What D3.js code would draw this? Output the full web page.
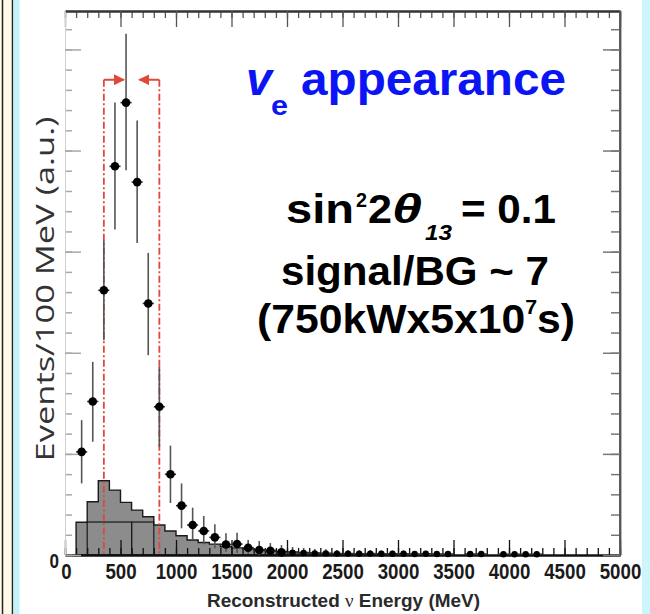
<!DOCTYPE html>
<html>
<head>
<meta charset="utf-8">
<script src="https://cdn.jsdelivr.net/npm/d3@7"></script>
<style>
  body { margin: 0; background: #fff; }
  svg { display: block; }
</style>
</head>
<body>
<svg id="chart"></svg>
<script>
// background histogram, 100 MeV bins (bin start in MeV, height in a.u.)
const bgBinStart = [100, 200, 300, 400, 500, 600, 700, 800, 900, 1000, 1100, 1200, 1300, 1400, 1500,
    1600, 1700, 1800, 1900, 2000, 2100, 2200, 2300, 2400, 2500, 2600, 2700, 2800, 2900];
const bgValues = [16.2, 26.3, 36.7, 32.1, 26.0, 22.2, 18.9, 14.8, 11.9, 9.5, 7.4, 6.2, 5.4, 4.1, 3.5,
    3.1, 2.5, 2.2, 1.8, 1.5, 1.2, 1.0, 0.8, 0.6, 0.5, 0.4, 0.3, 0.3, 0.2];
const bgBinWidth = 100;

// lower (intrinsic) background component
const lowBgEdges = [200, 600, 800];
const lowBgValues = [16.3, 16.3];

// signal + BG points
const sigEnergy = [150, 250, 350, 450, 550, 650, 750, 850, 950, 1050, 1150, 1250, 1350, 1450, 1550,
    1650, 1750, 1850, 1950, 2050, 2150, 2250, 2350, 2450, 2550, 2650, 2750, 2850, 2950, 3050, 3150,
    3250, 3350, 3450, 3650, 3750, 3950, 4050, 4150, 4250];
const sigValues = [51.0, 75.9, 130.9, 192.2, 223.7, 184.4, 124.4, 73.3, 39.9, 24.4, 14.8, 11.9, 8.7, 5.2, 5.4,
    3.6, 2.5, 2.1, 1.3, 1.1, 1.0, 0.8, 0.8, 0.7, 0.7, 0.6, 0.7, 0.6, 0.6, 0.6, 0.5,
    0.6, 0.5, 0.5, 0.5, 0.5, 0.4, 0.4, 0.4, 0.4];
const sigErrLow = [35.4, 56.0, 106.2, 160.9, 190.2, 154.3, 98.8, 53.5, 25.7, 13.2, 7.4, 5.3, 3.3, 1.6, 1.0,
    0.5, 0, 0, 0, 0, 0, 0, 0, 0, 0, 0, 0, 0, 0, 0, 0,
    0, 0, 0, 0, 0, 0, 0, 0, 0];
const sigErrHigh = [66.7, 95.5, 155.6, 223.7, 257.8, 214.9, 149.4, 93.1, 54.1, 35.4, 23.4, 19.3, 15.2, 10.7, 11.0,
    7.4, 6.9, 5.9, 4.9, 4.0, 3.5, 3.0, 2.8, 2.5, 2.5, 2.3, 2.4, 2.2, 2.2, 2.2, 2.0,
    2.1, 2.0, 2.0, 2.0, 2.0, 1.8, 1.8, 1.8, 1.8];

// selection window
const cutEnergies = [350, 850];
const cutLevel = 235;

const xTickLabels = [0, 500, 1000, 1500, 2000, 2500, 3000, 3500, 4000, 4500, 5000];

class EnergyPlot {
    constructor(id, width, height) {
        this.width = width;
        this.height = height;
        this.svg = d3.select(id).attr("width", width).attr("height", height);
        this.red = "#e0483a";
    }

    drawFrame() {
        // slide border bits
        this.svg.append("rect").attr("x", 0).attr("y", 0).attr("width", 13).attr("height", this.height).attr("fill", "#fffbe8");
        this.svg.append("line").attr("x1", 2.5).attr("x2", 2.5).attr("y1", 0).attr("y2", this.height).attr("stroke", "#222").attr("stroke-width", 1.5);
        this.svg.append("line").attr("x1", 12.5).attr("x2", 12.5).attr("y1", 0).attr("y2", this.height).attr("stroke", "#222").attr("stroke-width", 1.5);
        this.svg.append("rect").attr("x", 13.5).attr("y", 0).attr("width", 6).attr("height", this.height).attr("fill", "#c2f3fb");
        this.svg.append("rect").attr("x", 642).attr("y", 0).attr("width", 8).attr("height", this.height).attr("fill", "#cdf6fc");
    }

    draw() {
        this.drawFrame();
        const x = d3.scaleLinear().domain([0, 5000]).range([65, 620]);
        const y = d3.scaleLinear().domain([0, 269]).range([555, 11]);
        this.x = x;
        this.y = y;

        // background histogram
        const bins = bgBinStart.map((s, i) => ({e: s, v: bgValues[i]}));
        const last = bins[bins.length - 1];
        bins.push({e: last.e + bgBinWidth, v: last.v});
        const area = d3.area().curve(d3.curveStepAfter)
            .x(d => x(d.e)).y0(y(0)).y1(d => y(d.v));
        this.svg.append("path").datum(bins)
            .attr("d", area)
            .attr("fill", "#8c8c8c")
            .attr("stroke", "#1a1a1a")
            .attr("stroke-width", 1.4);

        // lower component outline
        this.svg.append("g").selectAll("rect")
            .data(lowBgValues).enter()
            .append("rect")
            .attr("x", (d, i) => x(lowBgEdges[i]))
            .attr("y", d => y(d))
            .attr("width", (d, i) => x(lowBgEdges[i + 1]) - x(lowBgEdges[i]))
            .attr("height", d => y(0) - y(d))
            .attr("fill", "none")
            .attr("stroke", "#1a1a1a")
            .attr("stroke-width", 1.2);

        this.drawAxes();
        this.drawCuts();
        this.drawPoints();
        this.drawTexts();
    }

    drawAxes() {
        const x = this.x, y = this.y;
        const arial = "'Liberation Sans', Arial, sans-serif";
        const minorX = d3.range(0, 5001, 100);
        const minorY = d3.range(0, 261, 10);
        const majorY = d3.range(0, 251, 50);

        // bottom
        const bMinor = this.svg.append("g").attr("transform", `translate(0,${y(0)})`)
            .call(d3.axisBottom(x).tickValues(minorX).tickSizeInner(-7).tickSizeOuter(0).tickFormat(""));
        const bMajor = this.svg.append("g").attr("transform", `translate(0,${y(0)})`)
            .call(d3.axisBottom(x).tickValues(xTickLabels).tickSizeInner(-15).tickSizeOuter(0)
                .tickFormat(d3.format("d")));
        [bMinor, bMajor].forEach(g => {
            g.select(".domain").attr("stroke", "#111").attr("stroke-width", 2);
            g.selectAll(".tick line").attr("stroke", "#111").attr("stroke-width", 1.3);
        });
        bMajor.attr("font-family", arial).attr("font-size", 22).attr("font-weight", "bold");
        bMajor.selectAll(".tick text")
            .attr("x", d => d === 0 ? 1 : 0)
            .attr("y", 24).attr("dy", null)
            .attr("fill", "#1a1a1a")
            .attr("textLength", d => String(d).length * 10.4)
            .attr("lengthAdjust", "spacingAndGlyphs");

        // top
        const tMinor = this.svg.append("g").attr("transform", `translate(0,${y.range()[1]})`)
            .call(d3.axisTop(x).tickValues(minorX).tickSizeInner(-7).tickSizeOuter(0).tickFormat(""));
        const tMajor = this.svg.append("g").attr("transform", `translate(0,${y.range()[1]})`)
            .call(d3.axisTop(x).tickValues(xTickLabels).tickSizeInner(-16).tickSizeOuter(0).tickFormat(""));
        [tMinor, tMajor].forEach(g => {
            g.select(".domain").attr("stroke", "#333").attr("stroke-width", 2);
            g.selectAll(".tick line").attr("stroke", "#555").attr("stroke-width", 1.3);
        });

        // left
        const lMinor = this.svg.append("g").attr("transform", `translate(${x(0)},0)`)
            .call(d3.axisLeft(y).tickValues(minorY).tickSizeInner(-7).tickSizeOuter(0).tickFormat(""));
        const lMajor = this.svg.append("g").attr("transform", `translate(${x(0)},0)`)
            .call(d3.axisLeft(y).tickValues(majorY).tickSizeInner(-16).tickSizeOuter(0)
                .tickFormat(d => d === 0 ? "0" : ""));
        [lMinor, lMajor].forEach(g => {
            g.select(".domain").attr("stroke", "#d0d0d0").attr("stroke-width", 1);
            g.selectAll(".tick line").attr("stroke", "#a8a8a8").attr("stroke-width", 1.5);
        });
        lMajor.attr("font-family", arial).attr("font-size", 21).attr("font-weight", "bold");
        lMajor.selectAll(".tick text")
            .attr("x", -6).attr("dy", "12")
            .attr("text-anchor", "end")
            .attr("fill", "#1a1a1a")
            .attr("textLength", 9.5)
            .attr("lengthAdjust", "spacingAndGlyphs");

        // right
        const rMinor = this.svg.append("g").attr("transform", `translate(${x(5000)},0)`)
            .call(d3.axisRight(y).tickValues(minorY).tickSizeInner(-9).tickSizeOuter(0).tickFormat(""));
        const rMajor = this.svg.append("g").attr("transform", `translate(${x(5000)},0)`)
            .call(d3.axisRight(y).tickValues(majorY).tickSizeInner(-17).tickSizeOuter(0).tickFormat(""));
        [rMinor, rMajor].forEach(g => {
            g.select(".domain").attr("stroke", "#555").attr("stroke-width", 1.8);
            g.selectAll(".tick line").attr("stroke", "#777").attr("stroke-width", 1.5);
        });
        rMajor.select(".domain").attr("d", `M0,${y.range()[1]}V${y(0)}`);
    }

    drawCuts() {
        const x = this.x, y = this.y;
        const defs = this.svg.append("defs");
        defs.append("marker")
            .attr("id", "arrowhead")
            .attr("viewBox", "0 0 10 10")
            .attr("refX", 9).attr("refY", 5)
            .attr("markerWidth", 5.5).attr("markerHeight", 5.5)
            .attr("orient", "auto")
            .append("path").attr("d", "M0,0L10,5L0,10z").attr("fill", this.red);

        const g = this.svg.append("g");
        g.selectAll(".cut")
            .data(cutEnergies).enter()
            .append("line")
            .attr("x1", d => x(d)).attr("x2", d => x(d))
            .attr("y1", y(cutLevel)).attr("y2", y(0))
            .attr("stroke", this.red)
            .attr("stroke-width", 1.8)
            .attr("stroke-dasharray", "7,2.5,2,2.5");
        const arrowLen = 180;
        g.selectAll(".arrow")
            .data(cutEnergies).enter()
            .append("line")
            .attr("x1", d => x(d))
            .attr("x2", (d, i) => x(i === 0 ? d + arrowLen : d - arrowLen))
            .attr("y1", y(cutLevel)).attr("y2", y(cutLevel))
            .attr("stroke", this.red)
            .attr("stroke-width", 2)
            .attr("marker-end", "url(#arrowhead)");
    }

    drawPoints() {
        const x = this.x, y = this.y;
        const pts = sigEnergy.map((e, i) => ({e: e, v: sigValues[i], lo: sigErrLow[i], hi: sigErrHigh[i]}));
        const g = this.svg.append("g");
        g.selectAll(".err")
            .data(pts).enter()
            .append("line")
            .attr("x1", d => x(d.e)).attr("x2", d => x(d.e))
            .attr("y1", d => y(d.lo)).attr("y2", d => y(d.hi))
            .attr("stroke", "#555")
            .attr("stroke-width", 1.6);
        g.selectAll(".herr")
            .data(pts).enter()
            .append("line")
            .attr("x1", d => x(d.e - 50)).attr("x2", d => x(d.e + 50))
            .attr("y1", d => y(d.v)).attr("y2", d => y(d.v))
            .attr("stroke", "#333")
            .attr("stroke-width", 1.6);
        g.selectAll("circle")
            .data(pts).enter()
            .append("circle")
            .attr("cx", d => x(d.e))
            .attr("cy", d => y(d.v))
            .attr("r", d => d.e < 2000 ? 4.3 : 3.2)
            .attr("fill", "#000");
    }

    drawTexts() {
        const arial = "'Liberation Sans', Arial, Helvetica, sans-serif";

        // y title
        this.svg.append("text")
            .attr("transform", "translate(54,289) rotate(-90)")
            .attr("text-anchor", "middle")
            .attr("font-family", "'Open Sans', 'DejaVu Sans', sans-serif")
            .attr("font-size", 26)
            .attr("fill", "#333")
            .attr("textLength", 345)
            .attr("lengthAdjust", "spacingAndGlyphs")
            .text("Events/100 MeV (a.u.)");

        // x title
        const xt = this.svg.append("text")
            .attr("x", 207).attr("y", 607)
            .attr("font-family", arial)
            .attr("font-weight", "bold")
            .attr("font-size", 19)
            .attr("fill", "#2a2a2a")
            .attr("textLength", 273)
            .attr("lengthAdjust", "spacingAndGlyphs");
        xt.append("tspan").text("Reconstructed ");
        xt.append("tspan").attr("font-weight", "normal").attr("font-family", "'Liberation Serif', serif").text("ν");
        xt.append("tspan").text(" Energy (MeV)");

        // nu_e appearance
        const blue = "#0a14f5";
        const bigText = (sx, sy, str, size, opts = {}) => this.svg.append("text")
            .attr("x", sx).attr("y", sy)
            .attr("font-family", arial)
            .attr("font-weight", "bold")
            .attr("font-style", opts.italic ? "italic" : "normal")
            .attr("font-size", size)
            .attr("fill", opts.fill || "#000")
            .attr("textLength", opts.len || null)
            .attr("lengthAdjust", "spacingAndGlyphs")
            .text(str);

        bigText(246, 95, "v", 46, {italic: true, fill: blue, len: 26});
        bigText(271, 115, "e", 28, {fill: blue, len: 17});
        bigText(301, 95, "appearance", 46, {fill: blue, len: 265});

        bigText(286, 223, "sin", 40, {len: 68});
        bigText(356, 207, "2", 20, {len: 11});
        bigText(368, 223, "2", 40, {len: 24});
        bigText(392, 223, "θ", 40, {italic: true, len: 30});
        bigText(425, 240, "13", 22, {italic: true, len: 27});
        bigText(461, 223, "= 0.1", 40, {len: 95});

        bigText(281, 285, "signal/BG ~ 7", 40, {len: 268});

        // exposure line, superscript kept in the same text element
        const ex = this.svg.append("text")
            .attr("x", 257).attr("y", 333)
            .attr("font-family", arial)
            .attr("font-weight", "bold")
            .attr("font-size", 40)
            .attr("fill", "#000")
            .attr("textLength", 318)
            .attr("lengthAdjust", "spacingAndGlyphs");
        ex.append("tspan").text("(750kWx5x10");
        ex.append("tspan").attr("font-size", 20).attr("dy", -19).text("7");
        ex.append("tspan").attr("dy", 19).text("s)");
    }
}

const plot = new EnergyPlot("#chart", 650, 614);
plot.draw();
</script>
</body>
</html>
